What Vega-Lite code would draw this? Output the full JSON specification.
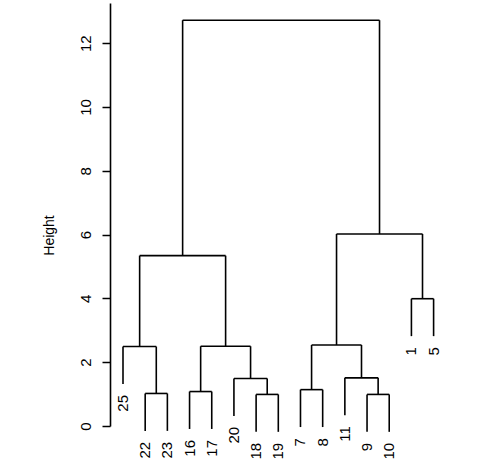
{
  "$schema": "https://vega.github.io/schema/vega-lite/v6.json",
  "width": 350,
  "height": 423,
  "autosize": {"type": "none"},
  "padding": {"left": 110, "top": 3, "right": 18, "bottom": 47},
  "background": "white",
  "config": {"view": {"stroke": null}, "font": "Liberation Sans"},
  "datasets": {
    "segs": [
      {"x": 2, "x2": 3, "y": 1.02, "y2": 1.02},
      {"x": 1, "x2": 2.5, "y": 2.49, "y2": 2.49},
      {"x": 4, "x2": 5, "y": 1.08, "y2": 1.08},
      {"x": 7, "x2": 8, "y": 0.99, "y2": 0.99},
      {"x": 6, "x2": 7.5, "y": 1.49, "y2": 1.49},
      {"x": 4.5, "x2": 6.75, "y": 2.5, "y2": 2.5},
      {"x": 1.75, "x2": 5.625, "y": 5.34, "y2": 5.34},
      {"x": 9, "x2": 10, "y": 1.14, "y2": 1.14},
      {"x": 12, "x2": 13, "y": 0.99, "y2": 0.99},
      {"x": 11, "x2": 12.5, "y": 1.51, "y2": 1.51},
      {"x": 9.5, "x2": 11.75, "y": 2.54, "y2": 2.54},
      {"x": 14, "x2": 15, "y": 3.99, "y2": 3.99},
      {"x": 10.625, "x2": 14.5, "y": 6.02, "y2": 6.02},
      {"x": 3.6875, "x2": 12.5625, "y": 12.72, "y2": 12.72},
      {"x": 1, "x2": 1, "y": 1.317, "y2": 2.49},
      {"x": 2, "x2": 2, "y": -0.153, "y2": 1.02},
      {"x": 3, "x2": 3, "y": -0.153, "y2": 1.02},
      {"x": 2.5, "x2": 2.5, "y": 1.02, "y2": 2.49},
      {"x": 4, "x2": 4, "y": -0.093, "y2": 1.08},
      {"x": 5, "x2": 5, "y": -0.093, "y2": 1.08},
      {"x": 7, "x2": 7, "y": -0.183, "y2": 0.99},
      {"x": 8, "x2": 8, "y": -0.183, "y2": 0.99},
      {"x": 6, "x2": 6, "y": 0.317, "y2": 1.49},
      {"x": 7.5, "x2": 7.5, "y": 0.99, "y2": 1.49},
      {"x": 4.5, "x2": 4.5, "y": 1.08, "y2": 2.5},
      {"x": 6.75, "x2": 6.75, "y": 1.49, "y2": 2.5},
      {"x": 1.75, "x2": 1.75, "y": 2.49, "y2": 5.34},
      {"x": 5.625, "x2": 5.625, "y": 2.5, "y2": 5.34},
      {"x": 9, "x2": 9, "y": -0.033, "y2": 1.14},
      {"x": 10, "x2": 10, "y": -0.033, "y2": 1.14},
      {"x": 12, "x2": 12, "y": -0.183, "y2": 0.99},
      {"x": 13, "x2": 13, "y": -0.183, "y2": 0.99},
      {"x": 11, "x2": 11, "y": 0.337, "y2": 1.51},
      {"x": 12.5, "x2": 12.5, "y": 0.99, "y2": 1.51},
      {"x": 9.5, "x2": 9.5, "y": 1.14, "y2": 2.54},
      {"x": 11.75, "x2": 11.75, "y": 1.51, "y2": 2.54},
      {"x": 14, "x2": 14, "y": 2.817, "y2": 3.99},
      {"x": 15, "x2": 15, "y": 2.817, "y2": 3.99},
      {"x": 10.625, "x2": 10.625, "y": 2.54, "y2": 6.02},
      {"x": 14.5, "x2": 14.5, "y": 3.99, "y2": 6.02},
      {"x": 3.6875, "x2": 3.6875, "y": 5.34, "y2": 12.72},
      {"x": 12.5625, "x2": 12.5625, "y": 6.02, "y2": 12.72}
    ],
    "leaves": [
      {"label": "25", "x": 1, "y": 1.317},
      {"label": "22", "x": 2, "y": -0.153},
      {"label": "23", "x": 3, "y": -0.153},
      {"label": "16", "x": 4, "y": -0.093},
      {"label": "17", "x": 5, "y": -0.093},
      {"label": "20", "x": 6, "y": 0.317},
      {"label": "18", "x": 7, "y": -0.183},
      {"label": "19", "x": 8, "y": -0.183},
      {"label": "7", "x": 9, "y": -0.033},
      {"label": "8", "x": 10, "y": -0.033},
      {"label": "11", "x": 11, "y": 0.337},
      {"label": "9", "x": 12, "y": -0.183},
      {"label": "10", "x": 13, "y": -0.183},
      {"label": "1", "x": 14, "y": 2.817},
      {"label": "5", "x": 15, "y": 2.817}
    ]
  },
  "layer": [
    {
      "data": {"name": "segs"},
      "mark": {"type": "rule", "color": "#000000", "strokeWidth": 1.6},
      "encoding": {
        "x": {"field": "x", "type": "quantitative", "scale": {"domain": [0.414, 16.19], "nice": false, "zero": false}, "axis": null},
        "x2": {"field": "x2"},
        "y": {"field": "y", "type": "quantitative", "scale": {"domain": [0, 13.26], "nice": false, "zero": false},
          "axis": {"title": "Height", "values": [0, 2, 4, 6, 8, 10, 12], "grid": false, "tickSize": 8, "tickColor": "#000000", "domainColor": "#000000", "tickWidth": 1.5, "domainWidth": 1.6,
            "labelAngle": 270, "labelAlign": "center", "labelBaseline": "alphabetic", "labelPadding": 12, "labelFontSize": 15, "labelColor": "#000000", "labelFont": "Liberation Sans",
            "titleFontSize": 14, "titleFontWeight": "normal", "titleColor": "#000000", "titleFont": "Liberation Sans", "titleAngle": 270, "titleBaseline": "alphabetic", "titleAlign": "center", "titleX": -57, "titleY": 232}},
        "y2": {"field": "y2"}
      }
    },
    {
      "data": {"name": "leaves"},
      "mark": {"type": "text", "angle": 270, "align": "right", "baseline": "middle", "dx": -11, "fontSize": 15, "font": "Liberation Sans", "color": "#000000"},
      "encoding": {
        "x": {"field": "x", "type": "quantitative"},
        "y": {"field": "y", "type": "quantitative"},
        "text": {"field": "label"}
      }
    }
  ]
}
